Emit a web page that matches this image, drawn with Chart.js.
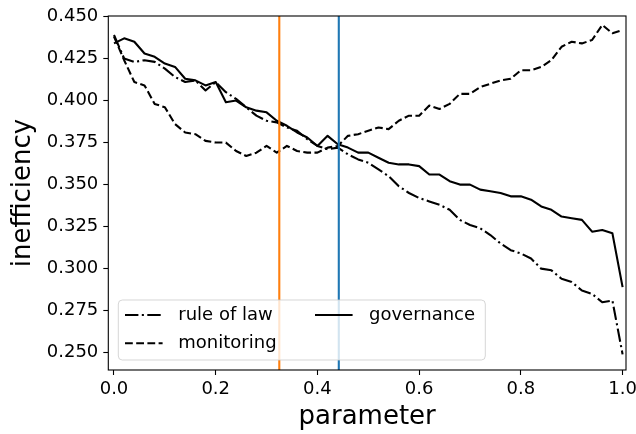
<!DOCTYPE html>
<html><head><meta charset="utf-8">
<script src="https://cdn.jsdelivr.net/npm/chart.js@4.4.1/dist/chart.umd.min.js"></script>
<style>html,body{margin:0;padding:0;background:#fff;}canvas{display:block;}</style>
</head><body>
<canvas id="c" width="636" height="434"></canvas>
<script>
const parameterValues = [0.00,0.02,0.04,0.06,0.08,0.10,0.12,0.14,0.16,0.18,0.20,0.22,0.24,0.26,0.28,0.30,0.32,0.34,0.36,0.38,0.40,0.42,0.44,0.46,0.48,0.50,0.52,0.54,0.56,0.58,0.60,0.62,0.64,0.66,0.68,0.70,0.72,0.74,0.76,0.78,0.80,0.82,0.84,0.86,0.88,0.90,0.92,0.94,0.96,0.98,1.00];
const ruleOfLaw = [0.439,0.425,0.423,0.424,0.423,0.419,0.414,0.411,0.412,0.406,0.411,0.405,0.401,0.396,0.391,0.388,0.387,0.384,0.382,0.377,0.373,0.371,0.372,0.368,0.365,0.363,0.359,0.355,0.349,0.345,0.342,0.340,0.338,0.335,0.329,0.326,0.324,0.320,0.315,0.311,0.309,0.306,0.300,0.299,0.294,0.292,0.287,0.285,0.280,0.281,0.249];
const monitoring = [0.438,0.424,0.411,0.409,0.398,0.396,0.386,0.381,0.380,0.376,0.375,0.375,0.370,0.367,0.369,0.373,0.369,0.373,0.370,0.369,0.369,0.372,0.373,0.379,0.380,0.382,0.384,0.383,0.388,0.391,0.391,0.397,0.395,0.398,0.404,0.404,0.408,0.410,0.412,0.413,0.418,0.418,0.420,0.424,0.432,0.435,0.434,0.436,0.445,0.440,0.442];
const governance = [0.434,0.437,0.435,0.428,0.426,0.422,0.420,0.413,0.412,0.409,0.411,0.399,0.400,0.396,0.394,0.393,0.388,0.385,0.381,0.378,0.373,0.379,0.374,0.372,0.369,0.369,0.366,0.363,0.362,0.362,0.361,0.356,0.356,0.352,0.350,0.350,0.347,0.346,0.345,0.343,0.343,0.341,0.337,0.335,0.331,0.330,0.329,0.322,0.323,0.321,0.289];
const seriesNames = ['rule of law','monitoring','governance'];
const thresholdValues = [0.325, 0.442];
const thresholdColors = ['#ff7f0e','#1f77b4'];
const xTickValues = [0.0,0.2,0.4,0.6,0.8,1.0];
const yTickValues = [0.250,0.275,0.300,0.325,0.350,0.375,0.400,0.425,0.450];
const xRange = [-0.0112, 1.0067];
const yRange = [0.2397, 0.4503];

const FONT = '"DejaVu Sans", sans-serif';
const LW = 2.1;
const pts = vals => parameterValues.map((x,i)=>({x:x, y:vals[i]}));
const dashes = [[13.4,3.4,2.1,3.4],[7.8,3.4],[]];
const seriesData = [ruleOfLaw, monitoring, governance];

const datasets = seriesData.map((vals,i)=>({
  label: seriesNames[i], data: pts(vals), borderColor:'#000', backgroundColor:'#000',
  borderWidth: LW, borderDash: dashes[i], pointRadius:0, tension:0, order:3, borderCapStyle:'butt', borderJoinStyle:'round'
}));
thresholdValues.forEach((v,i)=>{
  datasets.push({label:'', data:[{x:v,y:yRange[0]},{x:v,y:yRange[1]}], borderColor:thresholdColors[i],
    borderWidth:2.1, pointRadius:0, order:1, isThreshold:true});
});

const mplPlugin = {
  id:'mpl',
  afterDatasetsDraw(chart){
    const ctx = chart.ctx, a = chart.chartArea;
    ctx.save();
    ctx.strokeStyle = '#000'; ctx.lineWidth = 1.1; ctx.setLineDash([]);
    ctx.strokeRect(a.left, a.top, a.right-a.left, a.bottom-a.top);
    // legend
    const bx = a.left + 10, by = a.bottom - 70, bw = 367, bh = 60;
    ctx.beginPath();
    ctx.roundRect(bx, by, bw, bh, 4);
    ctx.fillStyle = 'rgba(255,255,255,0.8)'; ctx.fill();
    ctx.strokeStyle = 'rgba(204,204,204,0.8)'; ctx.lineWidth = 1; ctx.stroke();
    const items = [
      {ds:0, hx:a.left+16.7, tx:a.left+70, y:a.bottom-55},
      {ds:1, hx:a.left+16.7, tx:a.left+70, y:a.bottom-26.7},
      {ds:2, hx:a.left+206.7, tx:a.left+260.7, y:a.bottom-55}
    ];
    ctx.font = '18px ' + FONT; ctx.textBaseline = 'middle'; ctx.textAlign = 'left';
    items.forEach(it=>{
      const ds = chart.data.datasets[it.ds];
      ctx.beginPath(); ctx.setLineDash(ds.borderDash); ctx.lineWidth = ds.borderWidth; ctx.strokeStyle = ds.borderColor;
      ctx.lineCap = 'butt';
      ctx.moveTo(it.hx, it.y); ctx.lineTo(it.hx+37.6, it.y); ctx.stroke();
      ctx.setLineDash([]);
      ctx.fillStyle = '#000'; ctx.fillText(ds.label, it.tx, it.y);
    });
    ctx.restore();
  }
};

new Chart(document.getElementById('c'), {
  type:'line',
  data:{datasets},
  options:{
    responsive:false, animation:false, devicePixelRatio:1,
    layout:{padding:{left:0,right:10,top:16,bottom:0}},
    plugins:{legend:{display:false}, tooltip:{enabled:false}},
    scales:{
      x:{type:'linear', min:xRange[0], max:xRange[1],
        afterBuildTicks: s => { s.ticks = xTickValues.map(v=>({value:v})); },
        afterFit: s => { s.height = 64; s.paddingLeft = 0; s.paddingRight = 0; },
        grid:{display:true, drawOnChartArea:false, drawTicks:true, tickLength:5, tickWidth:1.1, tickColor:'#000', color:'#000'},
        border:{display:false},
        ticks:{color:'#000', font:{family:FONT, size:18}, padding:4, maxRotation:0, autoSkip:false, callback: v => Number(v).toFixed(1)},
        title:{display:true, text:'parameter', color:'#000', font:{family:FONT, size:26}, padding:{top:0, bottom:1}}
      },
      y:{type:'linear', min:yRange[0], max:yRange[1],
        afterBuildTicks: s => { s.ticks = yTickValues.map(v=>({value:v})); },
        afterFit: s => { s.width = 108.3; s.paddingTop = 0; s.paddingBottom = 0; },
        grid:{display:true, drawOnChartArea:false, drawTicks:true, tickLength:5, tickWidth:1.1, tickColor:'#000', color:'#000'},
        border:{display:false},
        ticks:{color:'#000', font:{family:FONT, size:18}, padding:5, autoSkip:false, callback: v => Number(v).toFixed(3)},
        title:{display:true, text:'inefficiency', color:'#000', font:{family:FONT, size:26}, padding:{top:8, bottom:0}}
      }
    }
  },
  plugins:[mplPlugin]
});
</script>
</body></html>
